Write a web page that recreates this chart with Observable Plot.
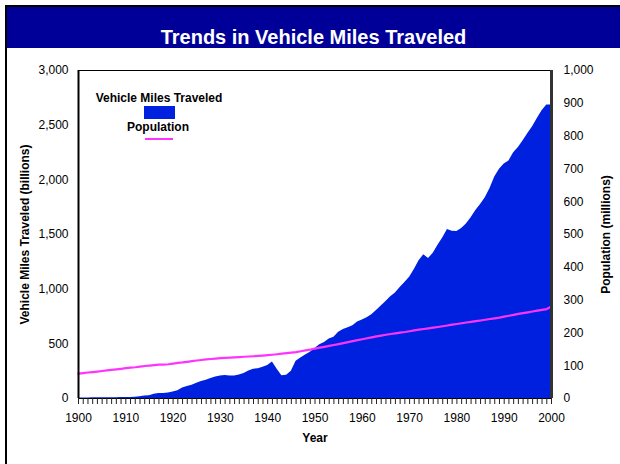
<!DOCTYPE html>
<html><head><meta charset="utf-8">
<script src="https://cdn.jsdelivr.net/npm/d3@7"></script>
<script src="https://cdn.jsdelivr.net/npm/@observablehq/plot@0.6"></script>
<style>
body{margin:0;background:#fff;}
#wrap{position:relative;width:620px;height:464px;overflow:hidden;font-family:"Liberation Sans",Arial,sans-serif;}
#chart{position:absolute;left:0;top:0;}
.border{position:absolute;left:5px;top:5px;width:615px;height:459px;border-left:2px solid #000;border-top:2px solid #000;box-sizing:border-box;}
.band{position:absolute;left:7px;top:7px;width:613px;height:21px;padding-top:20px;line-height:20px;background:#000099;color:#fff;font-weight:bold;font-size:20px;text-align:center;}
.lgt{position:absolute;width:200px;text-align:center;font-weight:bold;font-size:12px;line-height:14px;color:#000;}
.sw{position:absolute;}
g[aria-label$="axis label"] text{font-weight:bold;}
</style></head><body>
<div id="wrap">
  <div id="chart"></div>
  <div class="border"></div>
  <div class="band">Trends in Vehicle Miles Traveled</div>
  <div class="lgt" style="left:59px;top:91px;">Vehicle Miles Traveled</div>
  <div class="sw" style="left:144px;top:106px;width:31px;height:13px;background:#0020E0;"></div>
  <div class="lgt" style="left:58px;top:120px;">Population</div>
  <div class="sw" style="left:145px;top:138px;width:28px;height:2px;background:#FF33FF;"></div>
</div>
<script>
const firstYear = 1900;
// Vehicle miles traveled (billions), 1900-2000
const vmt = [
  5,5,5,6,6,7,7,8,8,9,
  10,10,11,15,22,25,40,45,45,50,
  60,70,95,110,122,140,155,168,182,197,
  206,210,205,205,215,229,252,268,272,285,
  302,334,268,208,213,250,341,371,398,424,
  458,491,513,544,561,606,631,647,665,700,
  719,738,767,805,847,888,930,965,1016,1062,
  1110,1179,1260,1314,1281,1328,1402,1467,1545,1529,
  1527,1555,1595,1653,1720,1775,1835,1921,2026,2096,
  2144,2172,2247,2296,2358,2423,2486,2562,2632,2685,
  2685
];
// Population (millions), 1900-2000
const pop = [
  76,77.6,79.2,80.6,82.2,83.8,85.5,87,88.7,90.5,
  92.4,93.9,95.3,97.2,99.1,100.5,102,103.3,103.2,104.5,
  106.5,108.5,110,111.9,114.1,115.8,117.4,119,120.5,121.8,
  123.1,124,124.8,125.6,126.4,127.3,128.1,128.8,129.8,130.9,
  132.1,133.4,134.9,136.7,138.4,139.9,141.4,144.1,146.6,149.2,
  152.3,154.9,157.6,160.2,163,165.9,168.9,172,174.9,177.8,
  180.7,183.7,186.5,189.2,191.9,194.3,196.6,198.7,200.7,202.7,
  205.1,207.7,209.9,211.9,213.9,216,218,220.2,222.6,225.1,
  227.2,229.5,231.7,233.8,235.8,237.9,240.1,242.3,244.5,246.8,
  249.6,252.2,255,257.8,260.3,262.8,265.2,267.8,270.2,272.7,
  281
];
const xTicks = [1900,1910,1920,1930,1940,1950,1960,1970,1980,1990,2000];
const leftTicks = [0,500,1000,1500,2000,2500,3000];
const rightTicks = [0,100,200,300,400,500,600,700,800,900,1000];
const popToLeft = 3000 / 1000;

const rows = vmt.map((v, i) => ({year: firstYear + i, vmt: v, pop: pop[i]}));
const allYears = rows.map(d => d.year);
const fmt = d3.format(",");

const plot = Plot.plot({
  width: 620, height: 464,
  marginTop: 70, marginBottom: 66, marginLeft: 78, marginRight: 69,
  style: {fontFamily: "Liberation Sans, Arial, sans-serif", fontSize: "12px", color: "#000", background: "transparent"},
  x: {domain: [1900, 2000]},
  y: {domain: [0, 3000]},
  marks: [
    Plot.areaY(rows, {x: "year", y: "vmt", fill: "#0020E0"}),
    Plot.line(rows, {x: "year", y: d => d.pop * popToLeft, stroke: "#FF33FF", strokeWidth: 2.2}),
    Plot.ruleY([0], {stroke: "#000", strokeWidth: 1}),
    Plot.ruleY([3000], {stroke: "#000", strokeWidth: 1}),
    Plot.ruleX([1900], {stroke: "#000", strokeWidth: 2}),
    Plot.ruleX([2000], {stroke: "#333", strokeWidth: 3}),
    Plot.axisX({ticks: allYears, tickSize: 6, tickPadding: 9, stroke: "#222",
      tickFormat: d => xTicks.includes(d) ? String(d) : "",
      label: "Year", labelAnchor: "center", labelArrow: "none", labelOffset: 43}),
    Plot.axisY({anchor: "left", ticks: leftTicks, tickSize: 0, tickPadding: 10, tickFormat: fmt,
      label: "Vehicle Miles Traveled (billions)", labelAnchor: "center", labelArrow: "none", labelOffset: 58}),
    Plot.axisY({anchor: "right", ticks: rightTicks.map(v => v * popToLeft), tickSize: 0, tickPadding: 12,
      tickFormat: d => fmt(Math.round(d / popToLeft)),
      label: "Population (millions)", labelAnchor: "center", labelArrow: "none", labelOffset: 58})
  ]
});
document.getElementById("chart").appendChild(plot);
</script>
</body></html>
